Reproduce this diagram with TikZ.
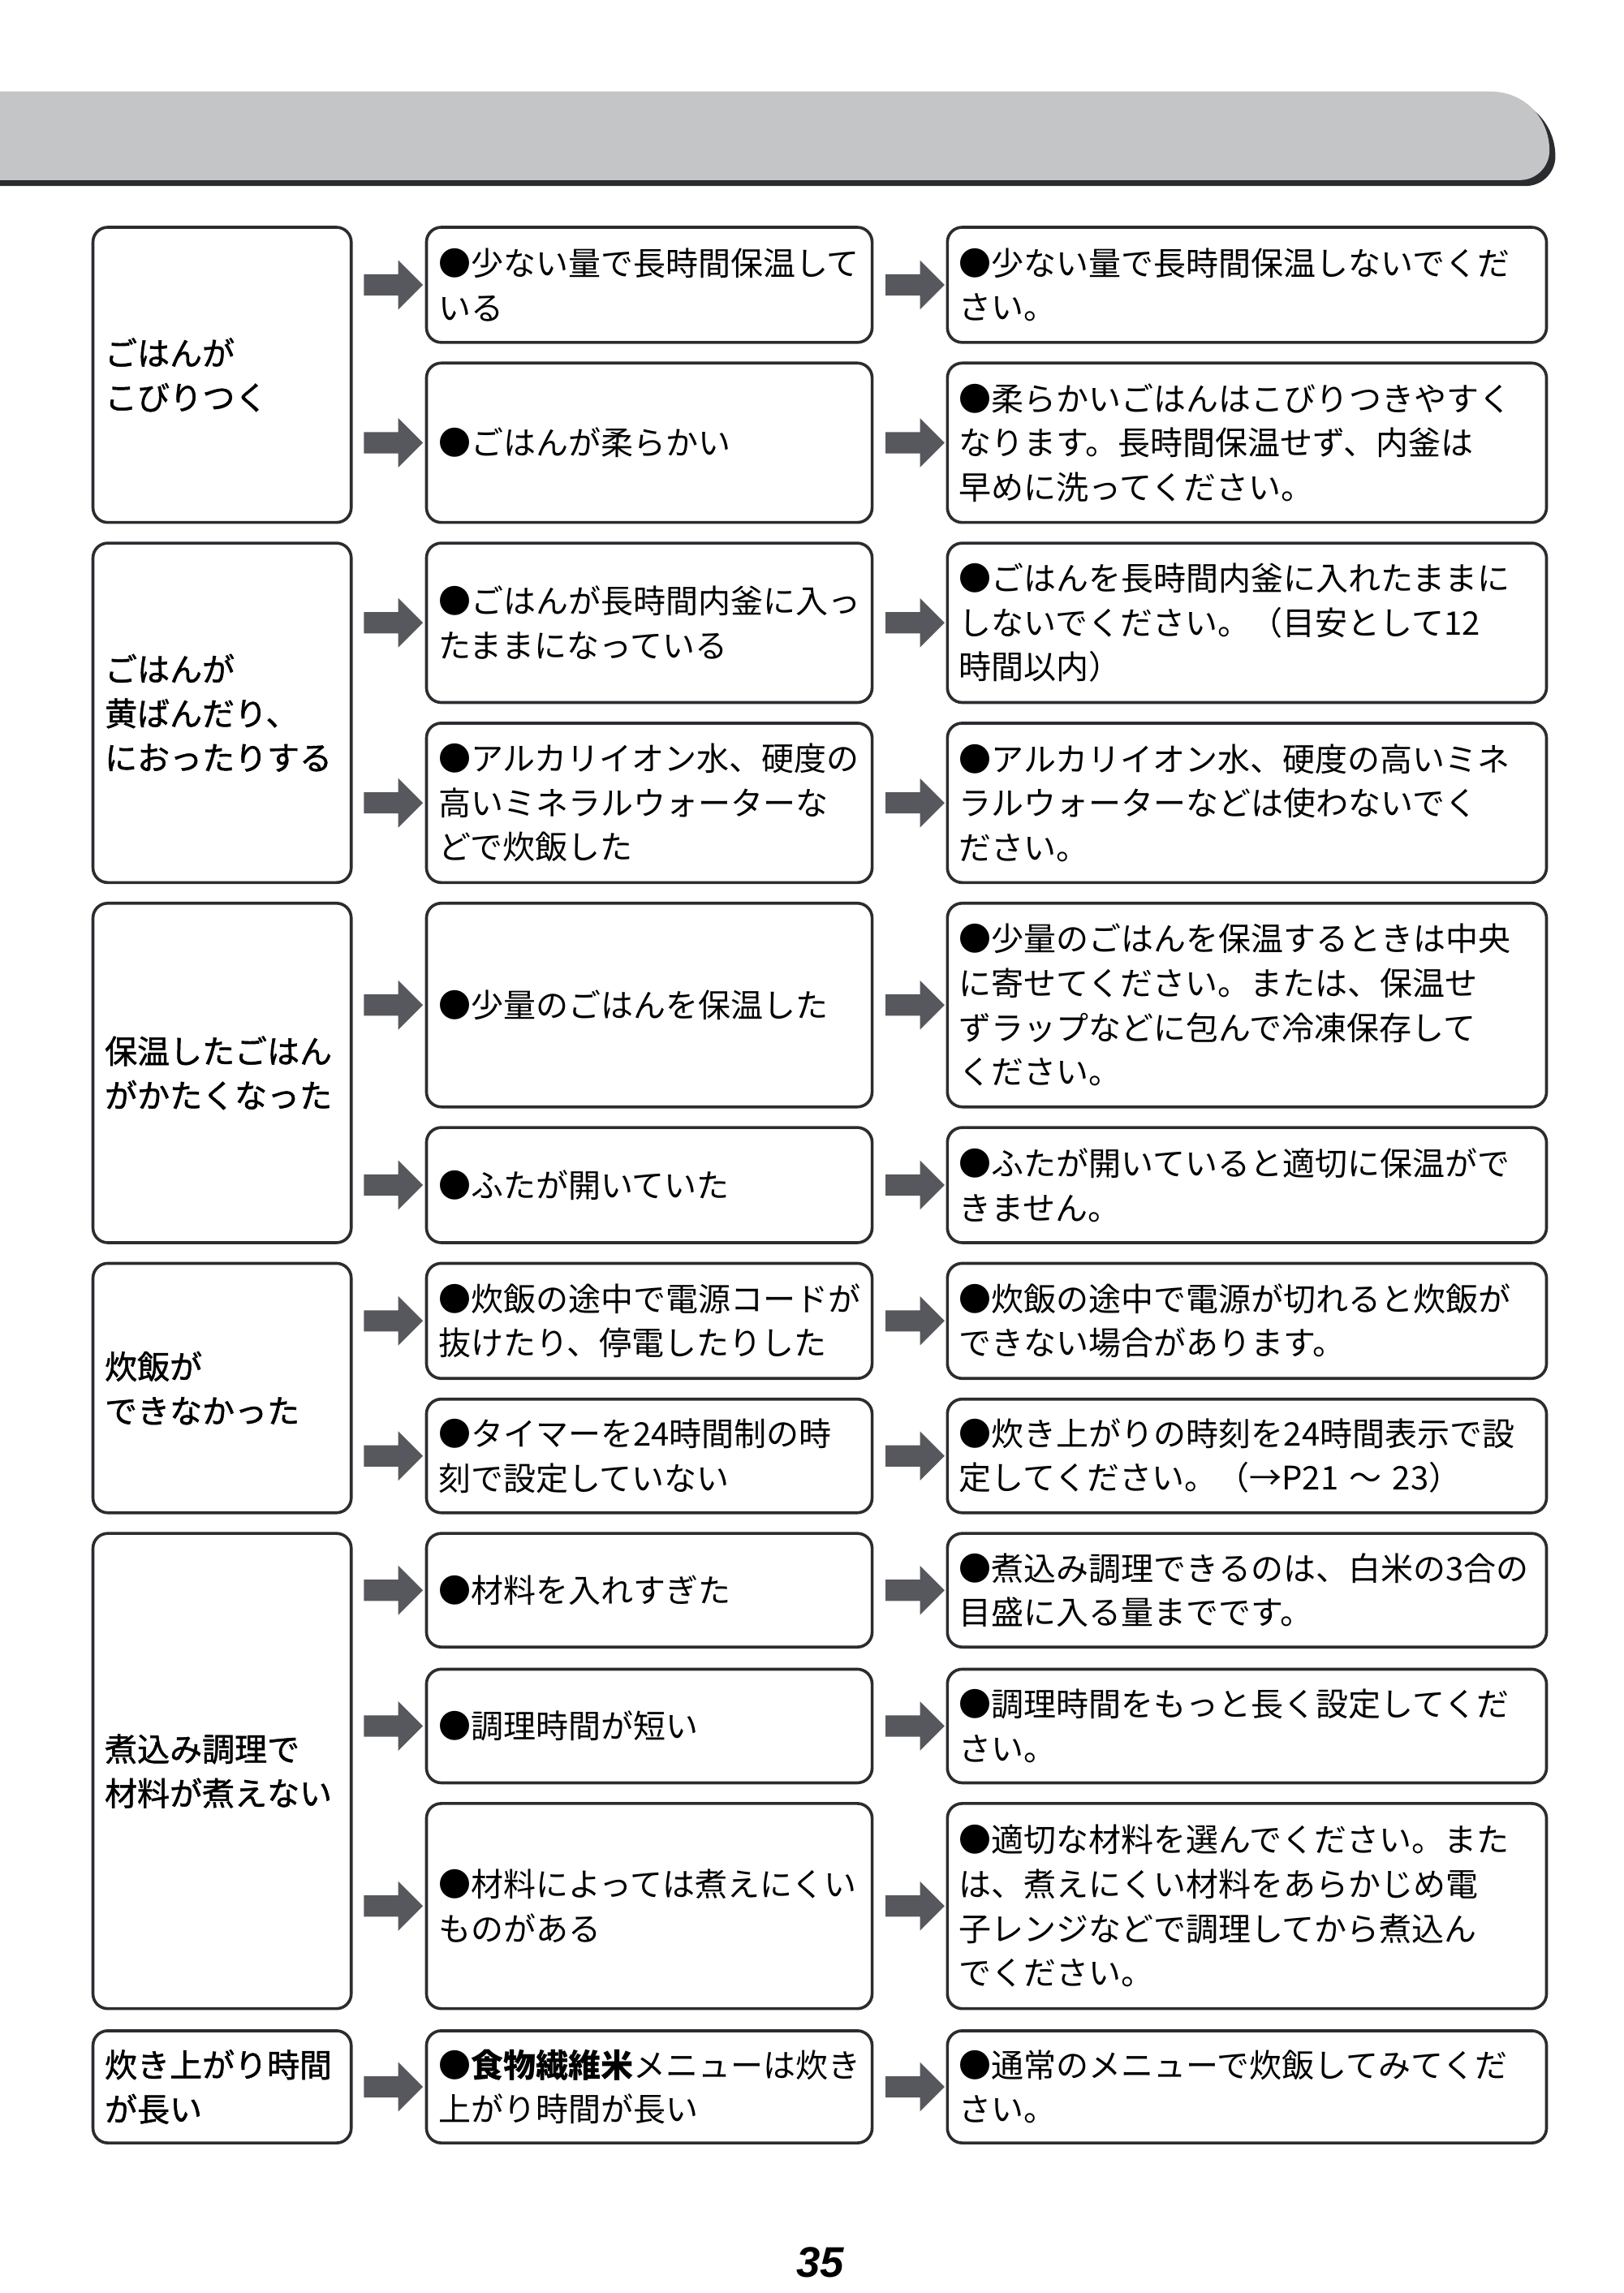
\documentclass[tikz,border=0pt]{standalone}
\usepackage{fontspec}
\setmainfont{Noto Sans CJK JP}
\newfontfamily\leftfont{Noto Sans CJK JP}[FakeBold=1.2]
\newfontfamily\pagefont{Liberation Sans}
\usepackage{tikz}
\usetikzlibrary {arrows.meta,
                 positioning,
                 shapes.arrows,
                 calc}
\definecolor{ink}{HTML}{2B2C30}
\definecolor{bar}{HTML}{C4C5C7}
\definecolor{arr}{HTML}{57585D}
\tikzset{
    base/.style={draw=ink, line width=2pt, rounded corners=10pt, anchor=north west,
                 align=left, inner xsep=8pt, font=\fontsize{22}{30}\selectfont},
    lbox/.style={base, minimum width=175pt, text width=159pt, font=\fontsize{22}{30}\leftfont},
    mbox/.style={base, minimum width=302pt, text width=286pt},
    rbox/.style={base, minimum width=406pt, text width=390pt},
    garrow/.style={single arrow, fill=arr, draw=none, inner sep=7pt,
                   minimum width=33pt, minimum height=40pt, single arrow head indent=0pt,
                   single arrow head extend=9.5pt},
}
\newcommand{\hang}{\hangindent=1em\hangafter=1 }
% one cause and its remedy, with their two arrows
\newcommand{\pair}[5]{%
    \node[mbox, minimum height=#3-#2] (m#1) at (288,#2) {\hang●#4};
    \node[rbox, minimum height=#3-#2] (r#1) at (641,#2) {\hang●#5};
    \node[garrow] at ($(m#1.west)+(-25,0)$) {};
    \node[garrow] at ($(r#1.west)+(-24.5,0)$) {};
}
\begin{document}
\begin{tikzpicture}[x=1pt, y=-1pt]
    \useasboundingbox (0,0) rectangle (1100,1553.7);

    % title bar
    \fill[ink] (-10,66) -- (1014,66) .. controls (1037,66) and (1054,84) .. (1054,106)
        .. controls (1054,117) and (1045,126) .. (1034,126) -- (-10,126) -- cycle;
    \fill[bar] (-10,62) -- (1010,62) .. controls (1033,62) and (1050,80) .. (1050,102)
        .. controls (1050,113) and (1041,122) .. (1030,122) -- (-10,122) -- cycle;

    % symptoms
    \node[lbox, minimum height=200] (l1) at (62,153) {ごはんが\\こびりつく};
    \node[lbox, minimum height=230] (l2) at (62,367) {ごはんが\\黄ばんだり、\\におったりする};
    \node[lbox, minimum height=230] (l3) at (62,611) {保温したごはん\\がかたくなった};
    \node[lbox, minimum height=169] (l4) at (62,855) {炊飯が\\できなかった};
    \node[lbox, minimum height=322] (l5) at (62,1038) {煮込み調理で\\材料が煮えない};
    \node[lbox, minimum height=76] (l6) at (62,1375) {炊き上がり時間\\が長い};

    % causes and remedies
    \pair{a}{153}{231}{少ない量で長時間保温して\\いる}{少ない量で長時間保温しないでくだ\\さい。}
    \pair{b}{245}{353}{ごはんが柔らかい}{柔らかいごはんはこびりつきやすく\\なります。長時間保温せず、内釜は\\早めに洗ってください。}
    \pair{c}{367}{475}{ごはんが長時間内釜に入っ\\たままになっている}{ごはんを長時間内釜に入れたままに\\しないでください。（目安として12\\時間以内）}
    \pair{d}{489}{597}{アルカリイオン水、硬度の\\高いミネラルウォーターな\\どで炊飯した}{アルカリイオン水、硬度の高いミネ\\ラルウォーターなどは使わないでく\\ださい。}
    \pair{e}{611}{749}{少量のごはんを保温した}{少量のごはんを保温するときは中央\\に寄せてください。または、保温せ\\ずラップなどに包んで冷凍保存して\\ください。}
    \pair{f}{763}{841}{ふたが開いていた}{ふたが開いていると適切に保温がで\\きません。}
    \pair{g}{855}{933}{炊飯の途中で電源コードが\\抜けたり、停電したりした}{炊飯の途中で電源が切れると炊飯が\\できない場合があります。}
    \pair{h}{947}{1024}{タイマーを24時間制の時\\刻で設定していない}{炊き上がりの時刻を24時間表示で設\\定してください。（→P21 ～ 23）}
    \pair{i}{1038}{1115}{材料を入れすぎた}{煮込み調理できるのは、白米の3合の\\目盛に入る量までです。}
    \pair{j}{1130}{1207}{調理時間が短い}{調理時間をもっと長く設定してくだ\\さい。}
    \pair{k}{1221}{1360}{材料によっては煮えにくい\\ものがある}{適切な材料を選んでください。また\\は、煮えにくい材料をあらかじめ電\\子レンジなどで調理してから煮込ん\\でください。}
    \pair{l}{1375}{1451}{\textbf{食物繊維米}メニューは炊き\\上がり時間が長い}{通常のメニューで炊飯してみてくだ\\さい。}

    \node[font=\fontsize{29}{30}\pagefont\bfseries\itshape] (page) at (556,1533) {35};
\end{tikzpicture}
\end{document}
